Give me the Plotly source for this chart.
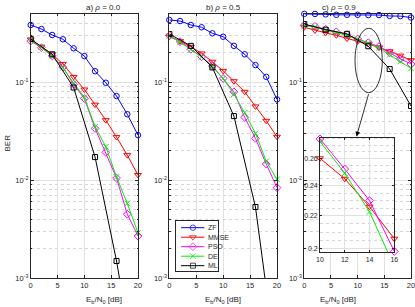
import math
import plotly.graph_objects as go

# ---------------- data ----------------
snr = [0, 2, 4, 6, 8, 10, 12, 14, 16, 18, 20]
snr_ml = [0, 4, 8, 12, 16, 20]

zf_a = [0.382, 0.347, 0.302, 0.273, 0.221, 0.184, 0.129, 0.0984, 0.072, 0.047, 0.0288]
mmse_a = [0.272, 0.229, 0.192, 0.153, 0.113, 0.084, 0.0589, 0.0409, 0.0275, 0.018, 0.0113]
pso_a = [0.262, 0.224, 0.185, 0.142, 0.095, 0.068, 0.0337, 0.0192, 0.0105, 0.0045, 0.0027]
de_a = [0.265, 0.226, 0.183, 0.140, 0.098, 0.070, 0.035, 0.0219, 0.0108, 0.0058, 0.0029]
ml_a = [0.275, 0.192, 0.088, 0.0172, 0.0015, 8e-5]

zf_b = [0.43, 0.419, 0.382, 0.362, 0.314, 0.290, 0.234, 0.192, 0.149, 0.113, 0.0666]
mmse_b = [0.29, 0.262, 0.229, 0.196, 0.161, 0.130, 0.102, 0.0796, 0.0565, 0.0403, 0.0277]
pso_b = [0.298, 0.258, 0.216, 0.181, 0.146, 0.109, 0.0796, 0.0436, 0.0267, 0.0146, 0.0084]
de_b = [0.296, 0.256, 0.214, 0.180, 0.144, 0.109, 0.075, 0.0487, 0.030, 0.0156, 0.0102]
ml_b = [0.309, 0.234, 0.141, 0.045, 0.00533, 1.2e-4]

zf_c = [0.495, 0.495, 0.49, 0.485, 0.485, 0.485, 0.482, 0.482, 0.472, 0.47, 0.455]
mmse_c = [0.362, 0.336, 0.317, 0.30, 0.277, 0.26, 0.245, 0.226, 0.206, 0.186, 0.167]
pso_c = [0.38, 0.37, 0.345, 0.325, 0.305, 0.275, 0.252, 0.230, 0.1985, 0.172, 0.153]
de_c = [0.375, 0.365, 0.34, 0.32, 0.30, 0.273, 0.249, 0.2226, 0.19, 0.162, 0.138]
ml_c = [0.39, 0.342, 0.31, 0.232, 0.136, 0.057]

titles = ["a) <i>ρ</i> = 0.0", "b) <i>ρ</i> = 0.5", "c) <i>ρ</i> = 0.9"]
names = ["ZF", "MMSE", "PSO", "DE", "ML"]
y_ticks = [1e-3, 1e-2, 1e-1]
y_ticktext = ["10<sup>-3</sup>", "10<sup>-2</sup>", "10<sup>-1</sup>"]
x_ticks = [0, 5, 10, 15, 20]
inset_xticks = [10, 12, 14, 16]
inset_yticks = [0.2, 0.22, 0.24, 0.26]

# ---------------- styles ----------------
W, H = 415, 307
FONT = "Liberation Sans, Arial, sans-serif"
AX = "#262626"
colors = {"ZF": "#0000ff", "MMSE": "#ff0000", "PSO": "#ff00ff", "DE": "#00ee00", "ML": "#000000"}
symbols = {"ZF": "circle-open", "MMSE": "triangle-down-open", "PSO": "diamond-open",
           "DE": "x-thin-open", "ML": "square-open"}
msize = {"ZF": 5.5, "MMSE": 6, "PSO": 6, "DE": 5.5, "ML": 5}
GRID = "#e0e0e0"
MINOR = "#d6d6d6"

panels = [
    {"zf": zf_a, "mmse": mmse_a, "pso": pso_a, "de": de_a, "ml": ml_a, "px": (30.7, 138.0)},
    {"zf": zf_b, "mmse": mmse_b, "pso": pso_b, "de": de_b, "ml": ml_b, "px": (169.3, 277.0)},
    {"zf": zf_c, "mmse": mmse_c, "pso": pso_c, "de": de_c, "ml": ml_c, "px": (304.3, 411.0)},
]
y_top_px, y_bot_px = 13.5, 278.3


def px2x(p):
    return p / W


def px2y(p):
    return 1 - p / H


minor_y = [m * 10 ** e for e in (-3, -2, -1) for m in range(2, 10) if m * 10 ** e <= 0.5]

fig = go.Figure()
layout = {}
annotations = []


def line_trace(x, y, name, xa, ya, clip=False):
    return go.Scatter(
        x=x, y=y, mode="lines+markers", name=name, showlegend=False,
        xaxis=xa, yaxis=ya, cliponaxis=clip,
        line=dict(color=colors[name], width=1),
        marker=dict(symbol=symbols[name], size=msize[name], color=colors[name],
                    line=dict(width=1, color=colors[name])),
    )


for i, p in enumerate(panels):
    k = "" if i == 0 else str(i + 1)
    xa, ya = "x" + k, "y" + k
    x0p, x1p = p["px"]
    layout["xaxis" + k] = dict(
        domain=[px2x(x0p), px2x(x1p)], range=[0, 20], anchor=ya,
        tickvals=x_ticks, ticks="inside", ticklen=3, tickcolor=AX,
        showline=True, mirror="allticks", linecolor=AX, linewidth=0.7,
        showgrid=True, gridcolor=GRID, gridwidth=0.8, zeroline=False,
        tickfont=dict(size=7.5, color=AX, family=FONT), ticklabeloverflow="allow",
    )
    layout["yaxis" + k] = dict(
        domain=[px2y(y_bot_px), px2y(y_top_px)], type="log",
        range=[-3, math.log10(0.5)], anchor=xa,
        tickvals=y_ticks, ticktext=y_ticktext, ticks="inside", ticklen=3, tickcolor=AX,
        showline=True, mirror="allticks", linecolor=AX, linewidth=0.7,
        showgrid=True, gridcolor=GRID, gridwidth=0.8, zeroline=False,
        tickfont=dict(size=7.5, color=AX, family=FONT), ticklabeloverflow="allow",
        minor=dict(tickmode="array", tickvals=minor_y, showgrid=True, griddash="dot",
                   gridcolor=MINOR, gridwidth=0.5, ticks="inside", ticklen=1.5,
                   tickcolor=AX),
    )
    fig.add_trace(line_trace(snr, p["zf"], "ZF", xa, ya))
    fig.add_trace(line_trace(snr, p["mmse"], "MMSE", xa, ya))
    fig.add_trace(line_trace(snr, p["pso"], "PSO", xa, ya))
    fig.add_trace(line_trace(snr, p["de"], "DE", xa, ya))
    fig.add_trace(line_trace(snr_ml, p["ml"], "ML", xa, ya, clip=True))

    cx = px2x((x0p + x1p) / 2)
    annotations.append(dict(text=titles[i], x=cx, y=px2y(1), xref="paper", yref="paper",
                            yanchor="top", showarrow=False,
                            font=dict(size=8, color=AX, family=FONT)))
    annotations.append(dict(text="E<sub>b</sub>/N<sub>0</sub> [dB]", x=cx, y=px2y(292.5),
                            xref="paper", yref="paper", yanchor="top", showarrow=False,
                            font=dict(size=8, color=AX, family=FONT)))

annotations.append(dict(text="BER", x=px2x(6.5), y=px2y(143), xref="paper", yref="paper",
                        xanchor="center", showarrow=False, textangle=-90,
                        font=dict(size=8, color=AX, family=FONT)))

# ---------------- inset (panel c zoom) ----------------
ins_x = (320.0, 394.3)
ins_y = (137.7, 252.3)
layout["xaxis4"] = dict(
    domain=[px2x(ins_x[0]), px2x(ins_x[1])], range=[10, 16], anchor="y4",
    tickvals=inset_xticks, ticks="inside", ticklen=2.5, tickcolor=AX,
    showline=True, mirror="allticks", linecolor=AX, linewidth=0.7,
    showgrid=True, gridcolor=GRID, gridwidth=0.8, zeroline=False,
    tickfont=dict(size=7, color=AX, family=FONT), ticklabeloverflow="allow",
)
inset_minor = [round(0.195 + 0.005 * j, 3) for j in range(1, 17)]
inset_minor = [v for v in inset_minor if v not in inset_yticks]
layout["yaxis4"] = dict(
    domain=[px2y(ins_y[1]), px2y(ins_y[0])], type="log",
    range=[math.log10(0.198), math.log10(0.276)], anchor="x4",
    tickvals=inset_yticks, ticktext=[str(v) for v in inset_yticks],
    ticks="inside", ticklen=2.5, tickcolor=AX,
    showline=True, mirror="allticks", linecolor=AX, linewidth=0.7,
    showgrid=True, gridcolor=GRID, gridwidth=0.8, zeroline=False,
    tickfont=dict(size=7, color=AX, family=FONT), ticklabeloverflow="allow",
    minor=dict(tickmode="array", tickvals=inset_minor, showgrid=True, griddash="dot",
               gridcolor=MINOR, gridwidth=0.5, ticks=""),
)
lo, hi = snr.index(10), snr.index(16) + 1
fig.add_trace(line_trace(snr[lo:hi], mmse_c[lo:hi], "MMSE", "x4", "y4"))
fig.add_trace(line_trace(snr[lo:hi], pso_c[lo:hi], "PSO", "x4", "y4"))
fig.add_trace(line_trace(snr[lo:hi], de_c[lo:hi], "DE", "x4", "y4", clip=True))

# ellipse + arrow
shapes = [dict(type="circle", xref="paper", yref="paper",
               x0=px2x(355.0), x1=px2x(382.3), y0=px2y(92.7), y1=px2y(28.3),
               line=dict(color="#000000", width=0.8))]
head = (356.5, 136.5)
tail = (369.0, 92.7)
annotations.append(dict(x=px2x(head[0]), y=px2y(head[1]), xref="paper", yref="paper",
                        ax=tail[0] - head[0], ay=tail[1] - head[1],
                        showarrow=True, arrowhead=2, arrowsize=1.2, arrowwidth=0.8,
                        arrowcolor="#000000", text=""))

# ---------------- legend (drawn in a helper axis) ----------------
leg_x = (176.0, 218.3)
leg_y = (220.7, 270.7)
layout["xaxis5"] = dict(domain=[px2x(leg_x[0]), px2x(leg_x[1])], range=[0, 1], anchor="y5",
                        showline=True, mirror=True, linecolor=AX, linewidth=0.7,
                        showgrid=False, zeroline=False, showticklabels=False, ticks="")
layout["yaxis5"] = dict(domain=[px2y(leg_y[1]), px2y(leg_y[0])], range=[0, 1], anchor="x5",
                        showline=True, mirror=True, linecolor=AX, linewidth=0.7,
                        showgrid=False, zeroline=False, showticklabels=False, ticks="")
shapes.append(dict(type="rect", xref="x5 domain", yref="y5 domain", x0=0, x1=1, y0=0, y1=1,
                   fillcolor="white", line=dict(width=0), layer="below"))
for j, nm in enumerate(names):
    yy = 0.86 - j * 0.19
    fig.add_trace(go.Scatter(
        x=[0.12, 0.40, 0.67], y=[yy, yy, yy], mode="lines+markers", showlegend=False,
        xaxis="x5", yaxis="y5", hoverinfo="skip",
        line=dict(color=colors[nm], width=1),
        marker=dict(symbol=symbols[nm], size=[0, msize[nm], 0], color=colors[nm],
                    line=dict(width=1, color=colors[nm])),
    ))
    annotations.append(dict(text=nm, x=0.71, y=yy, xref="x5", yref="y5", xanchor="left",
                            showarrow=False, font=dict(size=7, color=AX, family=FONT)))

fig.update_layout(
    width=W, height=H, margin=dict(l=0, r=0, t=0, b=0, autoexpand=False),
    paper_bgcolor="white", plot_bgcolor="white",
    showlegend=False, annotations=annotations, shapes=shapes,
    font=dict(family=FONT, color=AX),
    **layout,
)
fig.write_html("out.html", config={"displayModeBar": False},
               post_script="document.body.style.margin='0';document.body.style.padding='0';")
